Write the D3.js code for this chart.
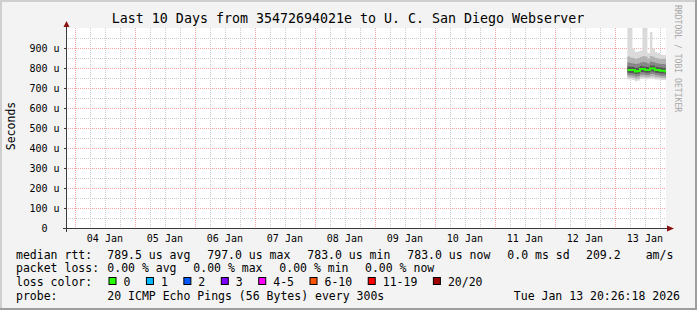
<!DOCTYPE html>
<html><head><meta charset="utf-8">
<script src="https://cdn.jsdelivr.net/npm/d3@7"></script>
<style>
body{margin:0;background:#f3f3f3}
svg{display:block}
text{font-family:"DejaVu Sans Mono",monospace;fill:#000}
</style>
</head><body>
<svg id="c" width="697" height="310"></svg>
<script>
// ---------------- data ----------------
const titleText = "Last 10 Days from 35472694021e to U. C. San Diego Webserver";
const yLabel = "Seconds";
const endTime = Date.UTC(2026, 0, 13, 20, 26, 18);
const startTime = endTime - 10 * 24 * 3600 * 1000;
const yTicks = [0, 100, 200, 300, 400, 500, 600, 700, 800, 900];   // microseconds
const dayLabels = ["04 Jan","05 Jan","06 Jan","07 Jan","08 Jan","09 Jan","10 Jan","11 Jan","12 Jan","13 Jan"];
// hourly bins on 13 Jan (start hour of each bin)
const binHours = [5, 6, 7, 8, 9, 10, 11, 12, 13, 14, 15, 16, 17, 18, 19, 20];
// ping distribution per bin (microseconds)
const pMax   = [1020,1010, 898, 880, 882, 887,1005,1000, 875, 980, 895, 880, 875, 866, 865, 866];
const p95    = [ 858, 852, 850, 846, 850, 855, 860, 858, 848, 860, 856, 850, 848, 845, 846, 845];
const p85    = [ 828, 825, 822, 820, 822, 828, 830, 828, 822, 832, 830, 825, 822, 820, 820, 818];
const p70    = [ 808, 806, 805, 800, 802, 810, 808, 806, 805, 812, 812, 806, 804, 802, 800, 798];
const median = [ 790, 790, 790, 783, 785, 795, 795, 790, 790, 797, 797, 790, 790, 786, 786, 783];
const p30    = [ 776, 775, 774, 770, 772, 780, 780, 776, 776, 782, 782, 776, 775, 772, 772, 770];
const p15    = [ 765, 764, 762, 758, 760, 768, 768, 765, 765, 770, 770, 765, 764, 760, 760, 758];
const p05    = [ 752, 752, 750, 745, 748, 756, 756, 753, 754, 758, 757, 752, 752, 750, 749, 748];
const pMin   = [ 742, 742, 740, 734, 738, 745, 746, 743, 746, 748, 746, 742, 742, 740, 740, 740];

const rttLabel = "median rtt:";
const rttStats = ["789.5 us avg", "797.0 us max", "783.0 us min", "783.0 us now", "0.0 ms sd", "209.2", "am/s"];
const lossLabel = "packet loss:";
const lossStats = ["0.00 % avg", "0.00 % max", "0.00 % min", "0.00 % now"];
const lossColorLabel = "loss color:";
const lossNames  = ["0", "1", "2", "3", "4-5", "6-10", "11-19", "20/20"];
const lossColors = ["#26ff00", "#00b8ff", "#0059ff", "#7e00ff", "#ff00ff", "#ff5500", "#ff0000", "#a10000"];
const probeLabel = "probe:";
const probeText = "20 ICMP Echo Pings (56 Bytes) every 300s";
const dateText = "Tue Jan 13 20:26:18 2026";
const watermark = "RRDTOOL / TOBI OETIKER";

// ---------------- layout ----------------
const W = 697, H = 310;
const L = 66, R = 666, T = 28, B = 228;
const svg = d3.select("#c");

// background + shade frame
svg.append("rect").attr("width", W).attr("height", H).attr("fill", "#f3f3f3");
svg.append("path").attr("d", `M0,0H${W}V2H2V${H}H0Z`).attr("fill", "#cfcfcf");
svg.append("path").attr("d", `M${W},${H}H0V${H-2}H${W-2}V0H${W}Z`).attr("fill", "#9e9e9e");

// canvas
svg.append("rect").attr("x", L).attr("y", T).attr("width", R - L).attr("height", B - T).attr("fill", "#fff");

const x = d3.scaleUtc().domain([startTime, endTime]).range([L, R]);
const y = d3.scaleLinear().domain([0, 1000]).range([B, T]);

// grid
const grid = svg.append("g");
const minorCol = "#cacaca", majorCol = "#f6a4a4";
const sixHours = d3.utcHour.every(6).range(new Date(startTime), new Date(endTime));
sixHours.forEach(d => {
  if (d.getUTCHours() === 0) return;
  const px = Math.round(x(d)) + 0.5;
  grid.append("line").attr("x1", px).attr("x2", px).attr("y1", T).attr("y2", B)
    .attr("stroke", minorCol).attr("stroke-dasharray", "1,1");
});
d3.range(50, 1000, 100).forEach(v => {
  const py = Math.round(y(v)) + 0.5;
  grid.append("line").attr("x1", L).attr("x2", R).attr("y1", py).attr("y2", py)
    .attr("stroke", minorCol).attr("stroke-dasharray", "1,1");
});
sixHours.filter(d => d.getUTCHours() === 0).forEach(d => {
  const px = Math.round(x(d)) + 0.5;
  grid.append("line").attr("x1", px).attr("x2", px).attr("y1", T).attr("y2", B)
    .attr("stroke", majorCol).attr("stroke-dasharray", "1,1");
});
yTicks.filter(v => v > 0).forEach(v => {
  const py = Math.round(y(v)) + 0.5;
  grid.append("line").attr("x1", L).attr("x2", R).attr("y1", py).attr("y2", py)
    .attr("stroke", majorCol).attr("stroke-dasharray", "1,1");
});

// smoke
const clip = svg.append("clipPath").attr("id", "plotclip");
clip.append("rect").attr("x", L).attr("y", T).attr("width", R - L).attr("height", B - T);
const bins = binHours.map((h, i) => ({ t: Date.UTC(2026, 0, 13, h), i }));
const pts = bins.concat([{ t: endTime, i: bins.length - 1 }]);
const smoke = svg.append("g").attr("clip-path", "url(#plotclip)");
const bands = [
  [pMin, pMax, "#dadada"],
  [p05, p95, "#b3b3b3"],
  [p15, p85, "#878787"],
  [p30, p70, "#555555"]
];
bands.forEach(([lo, hi, col]) => {
  const area = d3.area().curve(d3.curveStepAfter)
    .x(d => x(d.t)).y0(d => y(lo[d.i])).y1(d => y(hi[d.i]));
  smoke.append("path").attr("d", area(pts)).attr("fill", col);
});
const medLine = d3.line().curve(d3.curveStepAfter).x(d => x(d.t)).y(d => y(median[d.i]));
smoke.append("path").attr("d", medLine(pts)).attr("fill", "none")
  .attr("stroke", lossColors[0]).attr("stroke-width", 2);

// axes
const axisCol = "#3a3a3a", arrowCol = "#8b1010";
svg.append("line").attr("x1", L - 3).attr("x2", R + 1).attr("y1", B + 0.5).attr("y2", B + 0.5).attr("stroke", axisCol);
svg.append("line").attr("x1", L + 0.5).attr("x2", L + 0.5).attr("y1", B + 4).attr("y2", T - 4).attr("stroke", axisCol);
svg.append("path").attr("d", `M${R+1},${B-2.5}L${R+8},${B+0.5}L${R+1},${B+3.5}Z`).attr("fill", arrowCol);
svg.append("path").attr("d", `M${L-2.5},${T-1}L${L+0.5},${T-7}L${L+3.5},${T-1}Z`).attr("fill", arrowCol);
yTicks.forEach(v => {
  const py = Math.round(y(v)) + 0.5;
  svg.append("line").attr("x1", L - 2).attr("x2", L).attr("y1", py).attr("y2", py).attr("stroke", axisCol);
});

// y labels
const yl = svg.append("g").style("font-size", "10px");
yTicks.forEach(v => {
  yl.append("text").attr("x", v === 0 ? 47.5 : 59.5).attr("y", y(v) + 3.8)
    .attr("text-anchor", "end").text(v === 0 ? "0" : `${v} u`);
});
// x labels (centred at noon)
const xl = svg.append("g").style("font-size", "10px");
dayLabels.forEach((lab, i) => {
  const noon = Date.UTC(2026, 0, 4 + i, 12);
  xl.append("text").attr("x", x(noon)).attr("y", 241.5).attr("text-anchor", "middle").text(lab);
});

// title
svg.append("text").attr("x", 348).attr("y", 22.5).attr("text-anchor", "middle")
  .style("font-size", "13.3px").text(titleText);
// y axis label
svg.append("text").attr("transform", "translate(15,126) rotate(-90)").attr("text-anchor", "middle")
  .style("font-size", "11.5px").text(yLabel);
// watermark
svg.append("text").attr("transform", "translate(675,5) rotate(90)")
  .style("font-size", "8.1px").style("fill", "#a8a8a8").text(watermark);

// legend
const lg = svg.append("g").style("font-size", "11.5px");
const rows = [258.5, 272.3, 286, 299.7];
lg.append("text").attr("x", 16).attr("y", rows[0]).text(rttLabel);
[107.3, 207.3, 307.3, 407.3, 507.3, 586, 645.7].forEach((px, i) =>
  lg.append("text").attr("x", px).attr("y", rows[0]).text(rttStats[i]));
lg.append("text").attr("x", 16).attr("y", rows[1]).text(lossLabel);
[107.3, 193.3, 279.3, 365].forEach((px, i) =>
  lg.append("text").attr("x", px).attr("y", rows[1]).text(lossStats[i]));
lg.append("text").attr("x", 16).attr("y", rows[2]).text(lossColorLabel);
let cx = 108.5;
const cw = 6.93;
lossNames.forEach((n, i) => {
  lg.append("rect").attr("x", cx + 0.5).attr("y", 277.5).attr("width", 7).attr("height", 7)
    .attr("fill", lossColors[i]).attr("stroke", "#000");
  lg.append("text").attr("x", cx + 15).attr("y", rows[2]).text(n);
  cx = cx + 15 + n.length * cw + 15.5;
});
lg.append("text").attr("x", 16).attr("y", rows[3]).text(probeLabel);
lg.append("text").attr("x", 107.3).attr("y", rows[3]).text(probeText);
lg.append("text").attr("x", 680).attr("y", rows[3]).attr("text-anchor", "end").text(dateText);
</script>
</body></html>
